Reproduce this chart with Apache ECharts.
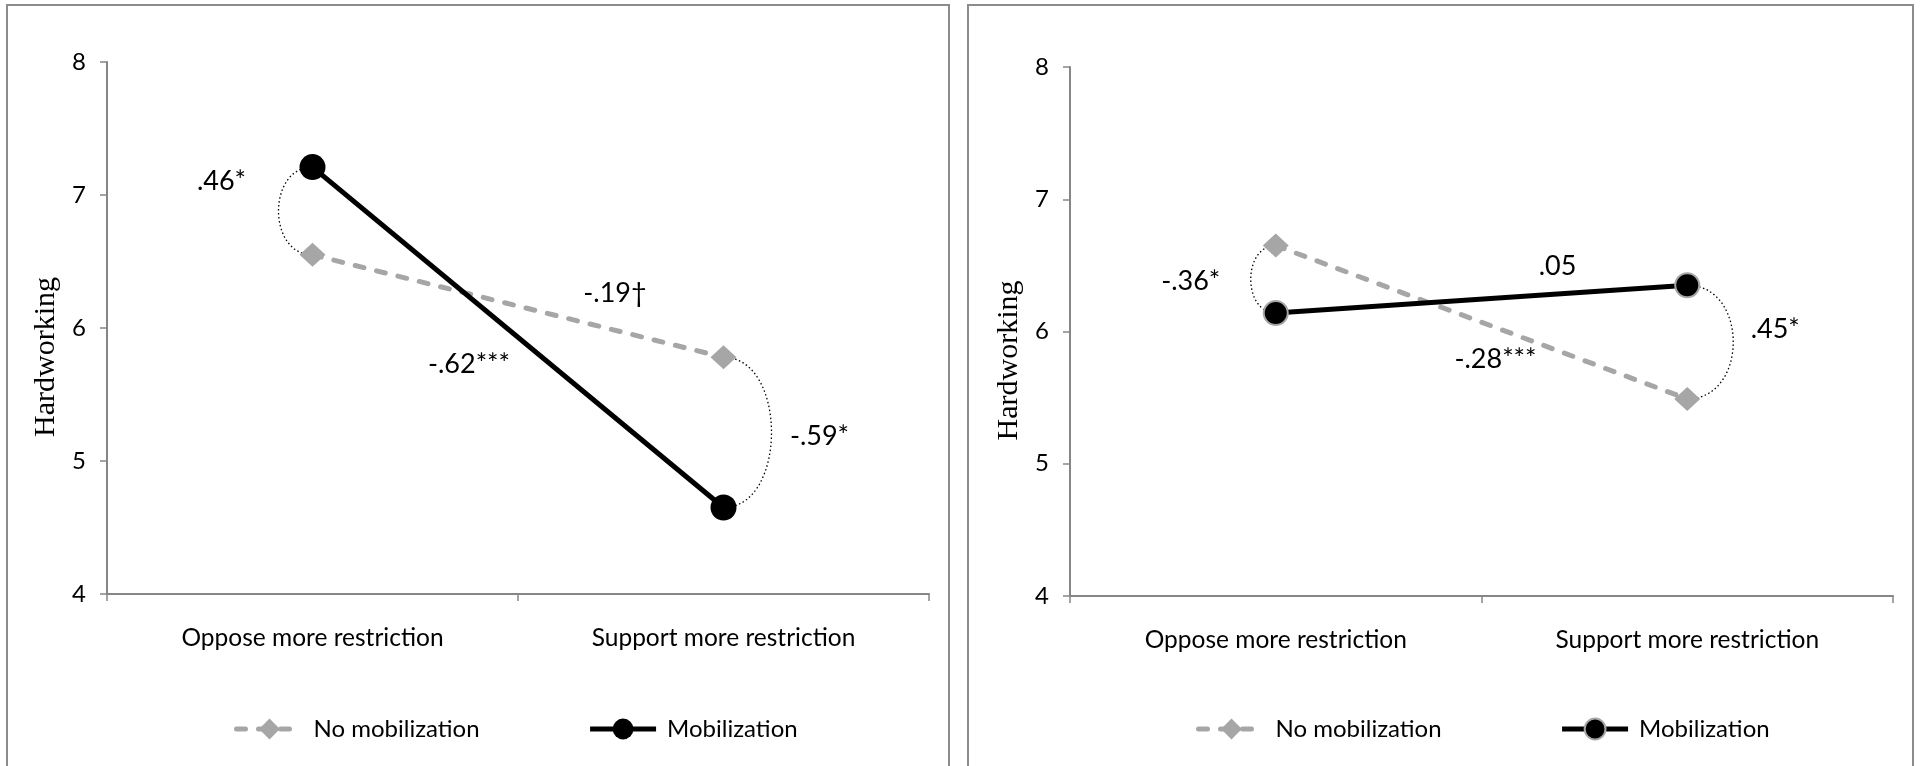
<!DOCTYPE html>
<html>
<head>
<meta charset="utf-8">
<script src="https://cdn.jsdelivr.net/npm/echarts@6/dist/echarts.min.js"></script>
<style>
  html, body { margin: 0; padding: 0; background: #fff; }
  #wrap { position: relative; width: 1921px; height: 766px; overflow: hidden; }
  #left { position: absolute; left: 0; top: 0; width: 959px; height: 766px; }
  #right { position: absolute; left: 959px; top: 0; width: 962px; height: 766px; }
</style>
</head>
<body>
<div id="wrap">
  <div id="left"></div>
  <div id="right"></div>
</div>
<script>
// categories and axis range
const categories = ['Oppose more restriction', 'Support more restriction'];
const yMin = 4;
const yMax = 8;
const yStep = 1;
const seriesNames = ['No mobilization', 'Mobilization'];

// left panel
const leftNoMob = [6.55, 5.78];
const leftMob = [7.21, 4.65];
const leftGapLabels = ['.46*', '-.59*'];        // mobilization vs no mobilization, per category
const leftSlopeLabels = ['-.19†', '-.62***'];   // no mobilization line, mobilization line

// right panel
const rightNoMob = [6.65, 5.49];
const rightMob = [6.14, 6.35];
const rightGapLabels = ['-.36*', '.45*'];
const rightSlopeLabels = ['-.28***', '.05'];

const FONT = 'Lato, "Open Sans", sans-serif';
const AXIS_GREY = '#868686';
const LINE_GREY = '#A6A6A6';

function buildOption(cfg) {
  const { noMob, mob, gapLabels, slopeLabels, grid, legendLeft, legendGap, border, gapOffsets, slopeOffsets, bulge, mobStyle } = cfg;

  return {
    animation: false,
    backgroundColor: '#fff',
    graphic: [{
      type: 'rect',
      shape: { x: border[0], y: 5, width: border[1], height: 820 },
      style: { fill: null, stroke: '#8c8c8c', lineWidth: 2 },
      silent: true
    }],
    grid: grid,
    legend: {
      left: legendLeft,
      top: 712,
      itemWidth: 66,
      itemHeight: 26,
      itemGap: legendGap,
      data: seriesNames,
      lineStyle: { width: 5 },
      textStyle: { fontFamily: FONT, fontSize: 24, color: '#000', padding: [0, 0, 0, 6] }
    },
    xAxis: {
      type: 'category',
      data: categories,
      boundaryGap: true,
      axisLine: { lineStyle: { color: AXIS_GREY, width: 2 } },
      axisTick: { show: true, length: 7, lineStyle: { color: AXIS_GREY, width: 1.5 } },
      axisLabel: { fontFamily: FONT, fontSize: 24.5, color: '#000', margin: 32 },
      splitLine: { show: false }
    },
    yAxis: {
      type: 'value',
      min: yMin,
      max: yMax,
      interval: yStep,
      axisLine: { show: true, lineStyle: { color: AXIS_GREY, width: 2 } },
      axisTick: { show: true, length: 7, lineStyle: { color: AXIS_GREY, width: 1.5 } },
      axisLabel: { fontFamily: FONT, fontSize: 24, color: '#000', margin: 21 },
      splitLine: { show: false },
      name: 'Hardworking',
      nameLocation: 'middle',
      nameGap: 40,
      nameTextStyle: { fontFamily: '"Liberation Serif", serif', fontSize: 30, color: '#000', padding: [0, 58, 0, 0] }
    },
    series: [
      {
        // dotted arcs between the two groups at each category + their labels
        type: 'custom',
        z: 1,
        silent: true,
        encode: { x: 0, y: [1, 2] },
        data: [0, 1].map(i => [i, mob[i], noMob[i]]),
        renderItem(params, api) {
          const i = api.value(0);
          const a = api.coord([i, api.value(1)]);
          const b = api.coord([i, api.value(2)]);
          const dir = i === 0 ? -1 : 1;
          const d = bulge[i] / 0.75;
          const mid = [(a[0] + b[0]) / 2, (a[1] + b[1]) / 2];
          return {
            type: 'group',
            children: [
              {
                type: 'bezierCurve',
                shape: {
                  x1: a[0], y1: a[1], x2: b[0], y2: b[1],
                  cpx1: a[0] + dir * d, cpy1: a[1],
                  cpx2: b[0] + dir * d, cpy2: b[1]
                },
                style: { fill: null, stroke: '#000', lineWidth: 1.3, lineDash: [1.5, 2.5] }
              },
              {
                type: 'text',
                x: mid[0] + gapOffsets[i][0],
                y: mid[1] + gapOffsets[i][1],
                style: {
                  text: gapLabels[params.dataIndex],
                  fontFamily: FONT, fontSize: 27, fill: '#000',
                  align: 'center', verticalAlign: 'middle'
                }
              }
            ]
          };
        }
      },
      {
        // slope labels near each line
        type: 'custom',
        z: 4,
        silent: true,
        encode: { x: 0, y: [1, 2] },
        data: [[0, noMob[0], noMob[1]], [1, mob[0], mob[1]]],
        renderItem(params, api) {
          const k = params.dataIndex;
          const p0 = api.coord([0, api.value(1)]);
          const p1 = api.coord([1, api.value(2)]);
          return {
            type: 'text',
            x: (p0[0] + p1[0]) / 2 + slopeOffsets[k][0],
            y: (p0[1] + p1[1]) / 2 + slopeOffsets[k][1],
            style: {
              text: slopeLabels[k],
              fontFamily: FONT, fontSize: 27, fill: '#000',
              align: 'center', verticalAlign: 'middle'
            }
          };
        }
      },
      {
        name: seriesNames[0],
        type: 'line',
        z: 3,
        data: noMob,
        symbol: 'diamond',
        symbolSize: [26, 24],
        itemStyle: { color: LINE_GREY },
        lineStyle: { color: LINE_GREY, width: 5, type: [9, 13], cap: 'round' }
      },
      {
        name: seriesNames[1],
        type: 'line',
        z: 3,
        data: mob,
        symbol: 'circle',
        symbolSize: mobStyle.size,
        itemStyle: { color: '#000', borderColor: mobStyle.border, borderWidth: mobStyle.borderWidth },
        lineStyle: { color: '#000', width: 5 }
      }
    ]
  };
}

const leftChart = echarts.init(document.getElementById('left'));
leftChart.setOption(buildOption({
  noMob: leftNoMob,
  mob: leftMob,
  gapLabels: leftGapLabels,
  slopeLabels: leftSlopeLabels,
  grid: { left: 107, right: 30, top: 62, bottom: 172 },
  legendLeft: 229,
  legendGap: 108,
  border: [7, 942],
  gapOffsets: [[-91, -30], [96, 4]],
  slopeOffsets: [[97, -13], [-49, 27]],
  bulge: [34, 48],
  mobStyle: { size: 26, border: '#000', borderWidth: 0 }
}));

const rightChart = echarts.init(document.getElementById('right'));
rightChart.setOption(buildOption({
  noMob: rightNoMob,
  mob: rightMob,
  gapLabels: rightGapLabels,
  slopeLabels: rightSlopeLabels,
  grid: { left: 111, right: 28, top: 67, bottom: 170 },
  legendLeft: 232,
  legendGap: 118,
  border: [9, 945],
  gapOffsets: [[-85, 2], [88, -13]],
  slopeOffsets: [[14, 37], [76, -33]],
  bulge: [25, 46],
  mobStyle: { size: 24, border: '#a6a6a6', borderWidth: 2 }
}));
</script>
</body>
</html>
